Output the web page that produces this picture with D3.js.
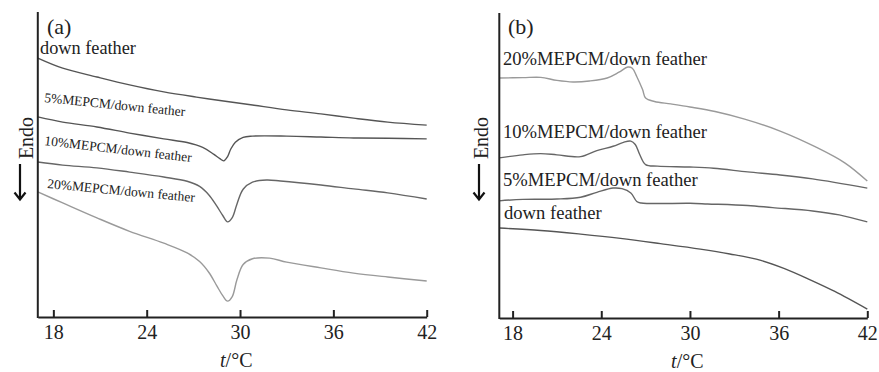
<!DOCTYPE html>
<html>
<head>
<meta charset="utf-8">
<script src="https://cdn.jsdelivr.net/npm/d3@7"></script>
<style>
  html, body { margin: 0; padding: 0; background: #fff; }
  svg text { font-family: "Liberation Serif", "Times New Roman", serif; fill: #222; }
</style>
</head>
<body>
<div id="chart"></div>
<script>
// x ticks shared by both panels
const xTicks = [18, 24, 30, 36, 42];

// panel (a): DSC heating curves, [t (°C), heat flow (a.u.)]
const aDownFeather = [[17,84.9],[18.6,81.6],[20.8,78.7],[22.9,76.1],[25.1,73.8],[27.2,72.1],[29.4,70.5],[30.8,69.5],[33,67.9],[35.2,66.6],[37.3,65.2],[39.5,63.9],[42,62.9]];
const a5pct = [[17,65.6],[18.6,63.9],[20.8,62.3],[22.9,60.3],[25.1,58.4],[26.6,57.2],[27.6,55.6],[28.3,53.4],[28.7,51.9],[28.95,51.2],[29.2,52.6],[29.4,55.0],[29.7,57.3],[30.2,58.9],[30.8,59.3],[33,59.3],[35.2,59.0],[37.3,58.7],[39.5,58.6],[42,58.4]];
const a10pct = [[17,50.8],[18.6,49.8],[20.8,48.9],[22.9,47.5],[25.1,45.9],[26.6,44.5],[27.4,42.8],[28.0,40.0],[28.5,36.4],[28.9,33.2],[29.2,31.2],[29.5,32.6],[29.8,37.0],[30.2,41.9],[30.8,44.2],[31.7,44.9],[32.6,44.6],[35.2,43.3],[37.3,42.0],[39.5,40.7],[42,38.7]];
const a20pct = [[17,41.0],[18.6,37.4],[20.8,32.5],[22.9,28.1],[25.1,24.2],[26.6,21.0],[27.4,18.2],[28.0,14.6],[28.5,10.3],[28.9,6.9],[29.2,5.2],[29.5,6.7],[29.8,12.2],[30.2,17.2],[30.8,19.1],[31.9,19.3],[33,18.0],[35.2,16.1],[37.3,14.4],[39.5,13.1],[42,11.8]];

// panel (b): DSC cooling curves
const b20pct = [[17.1,78.7],[18.7,78.8],[19.9,78.9],[21.0,77.9],[22.1,77.4],[23.2,77.7],[24.4,78.7],[25.2,80.6],[25.8,82.3],[26.1,81.9],[26.4,79.2],[26.8,74.8],[27.0,72.1],[27.6,71.0],[28.7,70.2],[30.0,69.2],[31.7,67.7],[33.7,65.2],[36.1,61.3],[38.5,56.1],[40.5,50.8],[42,44.9]];
const b10pct = [[17.1,52.5],[18.7,53.5],[19.9,53.9],[21.0,53.5],[22.6,52.9],[23.7,54.9],[24.8,56.3],[25.5,57.6],[26.0,58.0],[26.3,56.9],[26.6,53.6],[27.0,50.3],[27.8,49.8],[30.0,49.5],[31.6,49.1],[33.9,47.9],[36.1,46.9],[38.3,45.6],[42,42.6]];
const b5pct = [[17.1,38.4],[18.7,38.9],[21.0,39.0],[22.6,39.6],[23.7,41.2],[24.8,42.6],[25.4,42.4],[26.0,41.0],[26.4,38.2],[26.7,37.7],[30.0,37.6],[31.2,37.4],[33.9,36.9],[35.6,36.2],[38.3,35.1],[40.1,33.8],[42,31.5]];
const bDownFeather = [[17.1,29.5],[19.9,28.7],[22.6,27.5],[25.3,26.1],[28.0,24.4],[30.7,22.6],[32.7,21.0],[34.8,18.9],[36.4,16.2],[38.1,12.6],[39.8,8.7],[42,2.9]];

const W = 879, H = 372;
const svg = d3.select("#chart").append("svg")
  .attr("width", W).attr("height", H);

const panels = [
  {
    name: "(a)", nameX: 47, nameY: 34,
    xDomain: [17, 42], xRange: [37.8, 426.7], yRange: [317, 12],
    endoX: 33, arrowX: 20,
    series: [
      { data: aDownFeather, color: "#555" },
      { data: a5pct, color: "#555" },
      { data: a10pct, color: "#666" },
      { data: a20pct, color: "#9a9a9a" }
    ],
    labels: [
      { text: "down feather", x: 40, y: 53.5, size: 18.3, rot: 0 },
      { text: "5%MEPCM/down feather", x: 44, y: 102, size: 13.5, rot: 5.8 },
      { text: "10%MEPCM/down feather", x: 44, y: 145, size: 13.5, rot: 6.6 },
      { text: "20%MEPCM/down feather", x: 47, y: 188, size: 13.5, rot: 5.4 }
    ]
  },
  {
    name: "(b)", nameX: 508, nameY: 34,
    xDomain: [17.1, 42], xRange: [499.3, 867.3], yRange: [318, 13],
    endoX: 488, arrowX: 479,
    series: [
      { data: b20pct, color: "#9a9a9a" },
      { data: b10pct, color: "#666" },
      { data: b5pct, color: "#666" },
      { data: bDownFeather, color: "#555" }
    ],
    labels: [
      { text: "20%MEPCM/down feather", x: 503, y: 64.5, size: 18.6, rot: 0 },
      { text: "10%MEPCM/down feather", x: 503, y: 138, size: 18.6, rot: 0 },
      { text: "5%MEPCM/down feather", x: 503, y: 185.5, size: 18.6, rot: 0 },
      { text: "down feather", x: 504, y: 219, size: 18.6, rot: 0 }
    ]
  }
];

panels.forEach(p => {
  const x = d3.scaleLinear().domain(p.xDomain).range(p.xRange);
  const y = d3.scaleLinear().domain([0, 100]).range(p.yRange);
  const g = svg.append("g");

  // curves
  const line = d3.line()
    .x(d => x(d[0]))
    .y(d => y(d[1]))
    .curve(d3.curveCatmullRom.alpha(0.5));

  p.series.forEach(s => {
    g.append("path")
      .datum(s.data)
      .attr("d", line)
      .attr("fill", "none")
      .attr("stroke", s.color)
      .attr("stroke-width", 1.4);
  });

  // x axis with inward ticks
  const xAxis = g.append("g")
    .attr("transform", `translate(0,${p.yRange[0]})`)
    .call(d3.axisBottom(x).tickValues(xTicks).tickSize(-7).tickSizeOuter(0).tickPadding(8));
  xAxis.select(".domain").attr("stroke", "#222").attr("stroke-width", 2);
  xAxis.selectAll(".tick line").attr("stroke", "#222").attr("stroke-width", 2);
  xAxis.selectAll(".tick text")
    .style("font-family", "'Liberation Serif', serif")
    .style("font-size", "20px")
    .attr("fill", "#222");

  // y axis: plain line, no ticks
  g.append("line")
    .attr("x1", p.xRange[0]).attr("x2", p.xRange[0])
    .attr("y1", p.yRange[0] + 1).attr("y2", p.yRange[1])
    .attr("stroke", "#222").attr("stroke-width", 2);

  // panel name
  g.append("text")
    .attr("x", p.nameX).attr("y", p.nameY)
    .style("font-size", "22px")
    .text(p.name);

  // x axis title
  const xt = g.append("text")
    .attr("x", (p.xRange[0] + p.xRange[1]) / 2 + 4)
    .attr("y", p.yRange[0] + 50)
    .attr("text-anchor", "middle")
    .style("font-size", "20px");
  xt.append("tspan").style("font-style", "italic").text("t");
  xt.append("tspan").text("/°C");

  // Endo label with downward arrow
  g.append("text")
    .attr("transform", `translate(${p.endoX},138) rotate(-90)`)
    .attr("text-anchor", "middle")
    .style("font-size", "20px")
    .text("Endo");
  const ax = p.arrowX;
  g.append("path")
    .attr("d", `M${ax},164 L${ax},199 M${ax - 5.5},192.5 L${ax},199.5 L${ax + 5.5},192.5`)
    .attr("fill", "none")
    .attr("stroke", "#111")
    .attr("stroke-width", 2.2);

  // curve labels
  p.labels.forEach(l => {
    g.append("text")
      .attr("transform", `translate(${l.x},${l.y}) rotate(${l.rot})`)
      .style("font-size", l.size + "px")
      .text(l.text);
  });
});
</script>
</body>
</html>
